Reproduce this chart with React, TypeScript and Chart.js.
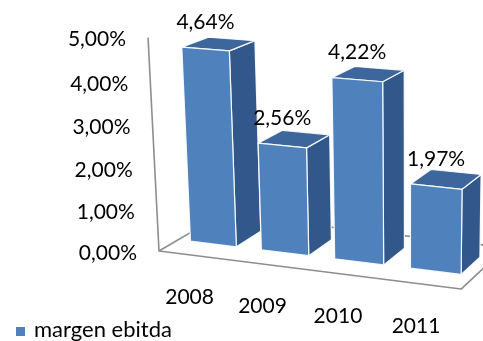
import { useEffect, useRef } from "react";
import { Chart, registerables } from "chart.js";

Chart.register(...registerables);

// ---- data ----
const categories = ["2008", "2009", "2010", "2011"];
const margenEbitda = [4.64, 2.56, 4.22, 1.97];
const valueTicks = [0, 1, 2, 3, 4, 5];
const seriesName = "margen ebitda";

// ---- look ----
const FONT = "Lato, 'Open Sans', sans-serif";
const FRONT = "#4F81BD";
const SIDE = "#32578A";
const TOP = "#3D679C";
const EDGE = "rgba(255,255,255,0.9)";
const FRAME = "#8E8E8E";

// ---- 3D camera ----
const ROT_Y = (21 * Math.PI) / 180;
const TILT = (18.65 * Math.PI) / 180;
const FOCAL = 1644;
const PRINCIPAL = { x: 410, y: 268 };
const ORIGIN = { x: 159, y: 251 }; // where the floor's front-left corner lands
const FLOOR_DEPTH = 135;
const BAR_Z0 = 40;
const BAR_Z1 = 96;

type Pt = { x: number; y: number };

function makeProjector() {
  const cy = Math.cos(ROT_Y);
  const sy = Math.sin(ROT_Y);
  const cp = Math.cos(TILT);
  const sp = Math.sin(TILT);
  const tx = ORIGIN.x - PRINCIPAL.x;
  const ty = PRINCIPAL.y - ORIGIN.y;
  return (X: number, Y: number, Z: number): Pt => {
    const xc = tx + X * cy + Z * sy;
    const z1 = -X * sy + Z * cy;
    const yc = ty + Y * cp + z1 * sp;
    const d = FOCAL + z1 * cp - Y * sp;
    const s = FOCAL / d;
    return { x: PRINCIPAL.x + xc * s, y: PRINCIPAL.y - yc * s };
  };
}

const fmt = (v: number) => v.toFixed(2).replace(".", ",") + "%";

function poly(ctx: CanvasRenderingContext2D, pts: Pt[], fill: string | null, stroke: string | null, lw = 1) {
  ctx.beginPath();
  pts.forEach((p, i) => (i ? ctx.lineTo(p.x, p.y) : ctx.moveTo(p.x, p.y)));
  ctx.closePath();
  if (fill) {
    ctx.fillStyle = fill;
    ctx.fill();
  }
  if (stroke) {
    ctx.strokeStyle = stroke;
    ctx.lineWidth = lw;
    ctx.stroke();
  }
}

const bars3d = {
  id: "bars3d",
  beforeDatasetsDraw(chart: any) {
    const ctx: CanvasRenderingContext2D = chart.ctx;
    const area = chart.chartArea;
    const ys = chart.scales.y;
    const P = makeProjector();
    const W = area.right - area.left;
    const zeroPx = ys.getPixelForValue(0);
    const hOf = (v: number) => zeroPx - ys.getPixelForValue(v);

    ctx.save();
    ctx.lineJoin = "round";

    // floor outline
    poly(ctx, [P(0, 0, 0), P(W, 0, 0), P(W, 0, FLOOR_DEPTH), P(0, 0, FLOOR_DEPTH)], null, FRAME, 1.6);

    // columns, left to right (the right ones sit nearer the viewer)
    const meta = chart.getDatasetMeta(0);
    meta.data.forEach((bar: any) => {
      const { x, y, base, width } = bar.getProps(["x", "y", "base", "width"], true);
      const cx = x - area.left;
      const hw = width / 2;
      const X0 = cx - hw;
      const X1 = cx + hw;
      const h = base - y;
      const side = [P(X1, 0, BAR_Z0), P(X1, 0, BAR_Z1), P(X1, h, BAR_Z1), P(X1, h, BAR_Z0)];
      const top = [P(X0, h, BAR_Z0), P(X1, h, BAR_Z0), P(X1, h, BAR_Z1), P(X0, h, BAR_Z1)];
      const front = [P(X0, 0, BAR_Z0), P(X1, 0, BAR_Z0), P(X1, h, BAR_Z0), P(X0, h, BAR_Z0)];
      poly(ctx, side, SIDE, EDGE, 1.2);
      poly(ctx, top, TOP, EDGE, 1.2);
      poly(ctx, front, FRONT, EDGE, 1.2);
    });

    // value axis line at the front-left corner
    const a0 = P(0, 0, 0);
    const a1 = P(0, hOf(valueTicks[valueTicks.length - 1]), 0);
    ctx.beginPath();
    ctx.moveTo(a0.x, a0.y);
    ctx.lineTo(a1.x, a1.y);
    ctx.strokeStyle = FRAME;
    ctx.lineWidth = 1.6;
    ctx.stroke();

    ctx.fillStyle = "#000";
    ctx.font = `21px ${FONT}`;
    ctx.textBaseline = "middle";

    // value tick labels
    ctx.textAlign = "right";
    valueTicks.forEach((t) => {
      const p = P(0, hOf(t), 0);
      ctx.fillText(fmt(t), p.x - 22, p.y + 2);
    });

    // category labels and value labels
    ctx.textAlign = "center";
    meta.data.forEach((bar: any, i: number) => {
      const { x } = bar.getProps(["x"], true);
      const cx = x - area.left;
      const pb = P(cx, 0, 0);
      ctx.fillText(categories[i], pb.x - 5, pb.y + 42);
      const pt = P(cx, hOf(margenEbitda[i]), BAR_Z0);
      ctx.fillText(fmt(margenEbitda[i]), pt.x, pt.y - 27);
    });

    // legend
    ctx.fillStyle = FRONT;
    ctx.fillRect(16, 327, 9, 9);
    ctx.fillStyle = "#000";
    ctx.textAlign = "left";
    ctx.textBaseline = "alphabetic";
    ctx.font = `22px ${FONT}`;
    ctx.fillText(seriesName, 34, 336.5);

    ctx.restore();
    return false;
  },
};

export default function App() {
  const canvasRef = useRef<HTMLCanvasElement | null>(null);

  useEffect(() => {
    const canvas = canvasRef.current;
    if (!canvas) return;
    const chart = new Chart(canvas, {
      type: "bar",
      data: {
        labels: categories,
        datasets: [
          {
            label: seriesName,
            data: margenEbitda,
            backgroundColor: FRONT,
            categoryPercentage: 1,
            barPercentage: 0.65,
          },
        ],
      },
      options: {
        animation: false,
        responsive: false,
        maintainAspectRatio: false,
        devicePixelRatio: 1,
        layout: { padding: { left: 0, right: 163, top: 20, bottom: 106 } },
        plugins: { legend: { display: false }, tooltip: { enabled: false } },
        scales: {
          x: { display: false },
          y: { display: false, min: 0, max: 5 },
        },
      },
      plugins: [bars3d],
    });
    return () => chart.destroy();
  }, []);

  return (
    <div style={{ position: "fixed", left: 0, top: 0, width: 483, height: 341, background: "#fff" }}>
      <canvas ref={canvasRef} width={483} height={341} style={{ width: 483, height: 341 }} />
    </div>
  );
}
